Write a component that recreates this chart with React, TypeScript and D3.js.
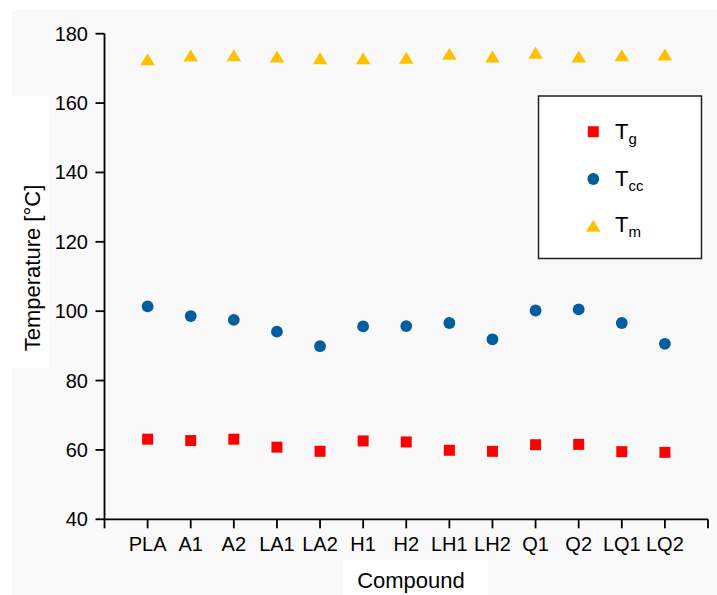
import React from "react";
import * as d3 from "d3";

const categories = ["PLA", "A1", "A2", "LA1", "LA2", "H1", "H2", "LH1", "LH2", "Q1", "Q2", "LQ1", "LQ2"];
const tg = [63.1, 62.7, 63.1, 60.8, 59.6, 62.6, 62.3, 59.9, 59.6, 61.5, 61.6, 59.5, 59.3];
const tcc = [101.4, 98.6, 97.5, 94.1, 89.9, 95.6, 95.7, 96.6, 91.9, 100.2, 100.5, 96.6, 90.6];
const tm = [172.6, 173.7, 173.8, 173.4, 172.9, 172.9, 173.1, 174.2, 173.4, 174.5, 173.4, 173.8, 174.0];
const yTicks = [40, 60, 80, 100, 120, 140, 160, 180];

const W = 717;
const H = 595;
const FONT = "Liberation Sans, Arial, sans-serif";
const RED = "#ff0000";
const BLUE = "#005e9e";
const GOLD = "#ffc000";

export default function App() {
  const x = d3.scaleLinear().domain([0, categories.length + 1]).range([104.5, 708]);
  const y = d3.scaleLinear().domain([40, 180]).range([519.3, 33.7]);
  const xTickIdx = d3.range(0, categories.length + 2);
  const sq = d3.symbol().type(d3.symbolSquare).size(11 * 11)();
  const circ = d3.symbol().type(d3.symbolCircle).size(Math.PI * 5.9 * 5.9)();
  const triPath = (cx: number, cy: number) => {
    const w = 14.5, h = 12;
    return `M${cx},${cy - h / 2}L${cx + w / 2},${cy + h / 2}L${cx - w / 2},${cy + h / 2}Z`;
  };

  return (
    <svg width={W} height={H} style={{ position: "absolute", left: 0, top: 0 }} fontFamily={FONT}>
      <rect x={0} y={0} width={W} height={H} fill="#ffffff" />
      <rect x={12} y={10} width={W - 12} height={H - 10} fill="#f9f9f9" />
      <rect x={0} y={96} width={50} height={272} fill="#ffffff" />
      <rect x={343} y={560} width={145} height={35} fill="#ffffff" />

      {/* y axis */}
      <line x1={x(0)} x2={x(0)} y1={y(180)} y2={y(40)} stroke="#000" strokeWidth={1.8} />
      {yTicks.map((t) => (
        <g key={t}>
          <line x1={x(0) - 9} x2={x(0)} y1={y(t)} y2={y(t)} stroke="#000" strokeWidth={1.8} />
          <text x={88} y={y(t)} dy="0.35em" textAnchor="end" fontSize={20} fill="#000">
            {t}
          </text>
        </g>
      ))}

      {/* x axis */}
      <line x1={x(0)} x2={x(categories.length + 1)} y1={y(40)} y2={y(40)} stroke="#000" strokeWidth={1.8} />
      {xTickIdx.map((i) => (
        <line key={i} x1={x(i)} x2={x(i)} y1={y(40)} y2={y(40) + 9} stroke="#000" strokeWidth={1.8} />
      ))}
      {categories.map((c, i) => (
        <text key={c} x={x(i + 1)} y={550.5} textAnchor="middle" fontSize={20} fill="#000">
          {c}
        </text>
      ))}

      {/* axis titles */}
      <text
        transform={`translate(40,268) rotate(-90)`}
        textAnchor="middle"
        fontSize={22}
        fill="#000"
      >
        Temperature [°C]
      </text>
      <text x={411} y={588} textAnchor="middle" fontSize={22} fill="#000">
        Compound
      </text>

      {/* data */}
      {tg.map((v, i) => (
        <path key={"g" + i} d={sq || ""} transform={`translate(${x(i + 1)},${y(v)})`} fill={RED} />
      ))}
      {tcc.map((v, i) => (
        <path key={"c" + i} d={circ || ""} transform={`translate(${x(i + 1)},${y(v)})`} fill={BLUE} />
      ))}
      {tm.map((v, i) => (
        <path key={"m" + i} d={triPath(x(i + 1), y(v))} fill={GOLD} />
      ))}

      {/* legend */}
      <rect x={538.5} y={96} width={163} height={162.5} fill="#ffffff" stroke="#222" strokeWidth={1.5} />
      <path d={sq || ""} transform="translate(593.3,131.7)" fill={RED} />
      <path d={circ || ""} transform="translate(593.3,179)" fill={BLUE} />
      <path d={triPath(593.3, 225.7)} fill={GOLD} />
      <text x={615} y={138.5} fontSize={22} fill="#000">
        T<tspan dy={5} fontSize={15}>g</tspan>
      </text>
      <text x={615} y={185.5} fontSize={22} fill="#000">
        T<tspan dy={5} fontSize={15}>cc</tspan>
      </text>
      <text x={615} y={232} fontSize={22} fill="#000">
        T<tspan dy={5} fontSize={15}>m</tspan>
      </text>
    </svg>
  );
}
